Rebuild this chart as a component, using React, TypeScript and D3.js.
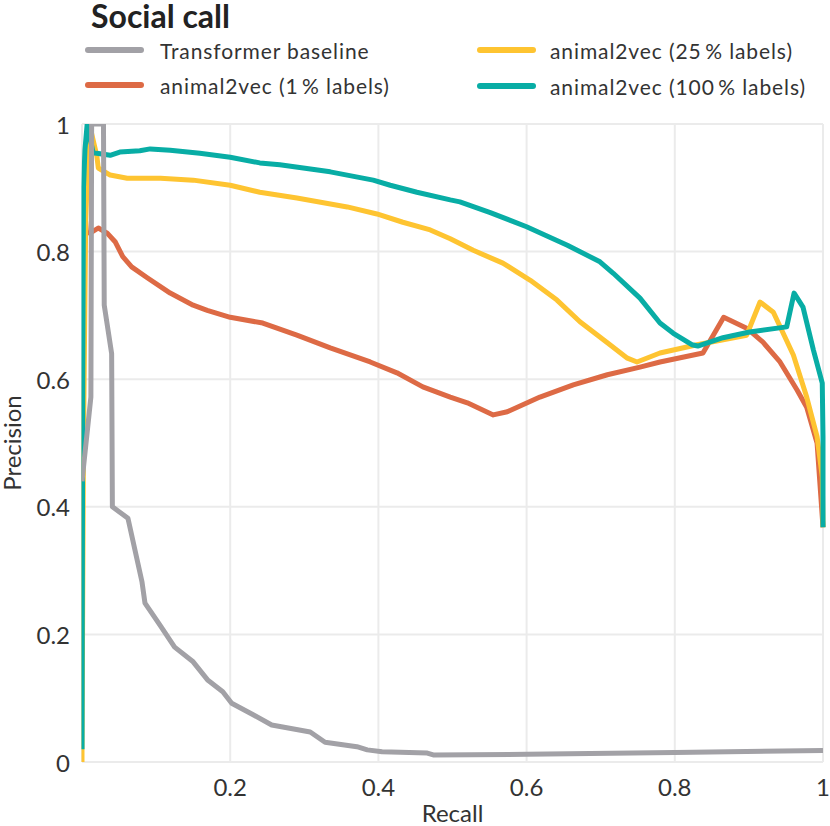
// App.tsx
import React from 'react';
import * as d3 from 'd3';

type Pt = [number, number];

// [recall, precision] pairs
const baseline: Pt[] = [
    [0, 0.44], [0.012, 0.572], [0.013, 1.0], [0.029, 1.0], [0.03, 0.716], [0.04, 0.64], [0.041, 0.40],
    [0.062, 0.382], [0.081, 0.282], [0.085, 0.249], [0.105, 0.215], [0.125, 0.18], [0.15, 0.157],
    [0.17, 0.128], [0.19, 0.11], [0.202, 0.092], [0.231, 0.074], [0.256, 0.058], [0.308, 0.047],
    [0.328, 0.031], [0.371, 0.024], [0.385, 0.019], [0.405, 0.016], [0.466, 0.014], [0.474, 0.011],
    [0.6, 0.012], [0.8, 0.015], [1.0, 0.018],
];

const labels1: Pt[] = [
    [0.004, 0.86], [0.006, 0.83], [0.011, 0.829], [0.022, 0.837], [0.034, 0.829], [0.045, 0.815],
    [0.055, 0.792], [0.067, 0.776], [0.088, 0.759], [0.119, 0.735], [0.15, 0.716], [0.169, 0.708],
    [0.2, 0.697], [0.244, 0.688], [0.29, 0.669], [0.335, 0.649], [0.389, 0.627], [0.425, 0.61],
    [0.46, 0.588], [0.497, 0.572], [0.52, 0.563], [0.555, 0.544], [0.574, 0.549], [0.618, 0.572],
    [0.663, 0.591], [0.709, 0.607], [0.753, 0.619], [0.78, 0.627], [0.838, 0.641], [0.866, 0.697],
    [0.897, 0.68], [0.919, 0.658], [0.942, 0.627], [0.965, 0.583], [0.978, 0.556], [0.992, 0.5],
    [1.0, 0.368],
];

const labels25: Pt[] = [
    [0, 0], [0, 0.02], [0.002, 0.5], [0.005, 0.85], [0.01, 1.0], [0.02, 0.95], [0.022, 0.931],
    [0.038, 0.92], [0.061, 0.915], [0.106, 0.915], [0.15, 0.912], [0.2, 0.904], [0.24, 0.893],
    [0.29, 0.884], [0.358, 0.87], [0.398, 0.859], [0.433, 0.846], [0.47, 0.834], [0.497, 0.82],
    [0.528, 0.802], [0.568, 0.782], [0.605, 0.755], [0.641, 0.724], [0.672, 0.69], [0.709, 0.657],
    [0.736, 0.633], [0.749, 0.627], [0.78, 0.641], [0.83, 0.654], [0.897, 0.669], [0.915, 0.721],
    [0.933, 0.705], [0.96, 0.638], [0.978, 0.572], [0.992, 0.51], [0.999, 0.447], [1.0, 0.368],
];

const labels100: Pt[] = [
    [0, 0.02], [0.001, 0.6], [0.002, 0.9], [0.004, 0.96], [0.007, 1.0], [0.015, 0.955], [0.02, 0.954],
    [0.038, 0.951], [0.051, 0.956], [0.078, 0.958], [0.092, 0.961], [0.119, 0.959], [0.159, 0.954],
    [0.2, 0.948], [0.24, 0.939], [0.267, 0.936], [0.335, 0.925], [0.393, 0.912], [0.416, 0.904],
    [0.452, 0.893], [0.497, 0.881], [0.51, 0.878], [0.551, 0.861], [0.6, 0.839], [0.655, 0.81],
    [0.699, 0.784], [0.717, 0.766], [0.753, 0.727], [0.78, 0.688], [0.798, 0.672], [0.823, 0.654],
    [0.831, 0.652], [0.865, 0.665], [0.901, 0.674], [0.951, 0.682], [0.961, 0.735], [0.973, 0.713],
    [0.987, 0.646], [0.999, 0.594], [1.0, 0.51], [1.0, 0.368],
];

const xTicks = [0.2, 0.4, 0.6, 0.8, 1];
const yTicks = [0, 0.2, 0.4, 0.6, 0.8, 1];

// legend order (drawing order differs: baseline sits on top)
const series = [
    { name: 'Transformer baseline', color: '#a2a1a6', data: baseline },
    { name: 'animal2vec (1\u2009% labels)', color: '#dd6a45', data: labels1 },
    { name: 'animal2vec (25\u2009% labels)', color: '#fec431', data: labels25 },
    { name: 'animal2vec (100\u2009% labels)', color: '#08ada5', data: labels100 },
];
const drawOrder = [1, 2, 3, 0];

const W = 830;
const H = 826;
const left = 82, right = 823, top = 124, bottom = 762;
const font = 'Lato, "Open Sans", sans-serif';
const textColor = '#333333';

const App: React.FC = () => {
    const x = d3.scaleLinear().domain([0, 1]).range([left, right]);
    const y = d3.scaleLinear().domain([0, 1]).range([bottom, top]);

    const line = d3.line<Pt>()
        .x(d => x(d[0]))
        .y(d => y(d[1]));

    const legendPos = [
        { lx: 88, tx: 160, ly: 50 },
        { lx: 88, tx: 160, ly: 85 },
        { lx: 480, tx: 550, ly: 50 },
        { lx: 480, tx: 550, ly: 86 },
    ];

    return (
        <div style={{ position: 'absolute', left: 0, top: 0 }}>
            <svg width={W} height={H} style={{ display: 'block', background: '#fff' }}>
                <defs>
                    <clipPath id="plot-clip">
                        <rect x={left - 0.5} y={top} width={W - left} height={bottom - top} />
                    </clipPath>
                </defs>

                {/* grid */}
                <g stroke="#ebebeb" strokeWidth={2}>
                    {yTicks.map(t => (
                        <line key={'gy' + t} x1={left} x2={right} y1={y(t)} y2={y(t)} />
                    ))}
                    {[0, ...xTicks].map(t => (
                        <line key={'gx' + t} x1={x(t)} x2={x(t)} y1={top} y2={bottom} />
                    ))}
                </g>

                {/* curves */}
                <g clipPath="url(#plot-clip)" fill="none" strokeWidth={5} strokeLinejoin="round" strokeLinecap="butt">
                    {drawOrder.map(i => (
                        <path key={series[i].name} d={line(series[i].data) || ''} stroke={series[i].color} />
                    ))}
                </g>

                {/* tick labels */}
                <g fontFamily={font} fontSize={24} fill={textColor}>
                    {yTicks.map(t => (
                        <text key={'ty' + t} x={70} y={y(t)} textAnchor="end" dominantBaseline="central">
                            {d3.format('~g')(t)}
                        </text>
                    ))}
                    {xTicks.map(t => (
                        <text key={'tx' + t} x={x(t)} y={786} textAnchor="middle" dominantBaseline="central">
                            {d3.format('~g')(t)}
                        </text>
                    ))}
                    <text x={(left + right) / 2} y={822} textAnchor="middle">Recall</text>
                    <text transform={`translate(21, ${(top + bottom) / 2}) rotate(-90)`} textAnchor="middle">
                        Precision
                    </text>
                </g>

                {/* title */}
                <text x={91} y={28} fontFamily={font} fontWeight="bold" fontSize={32} fill="#222">
                    Social call
                </text>

                {/* legend */}
                <g fontFamily={font} fontSize={21} fill={textColor} letterSpacing={0.9}>
                    {series.map((s, i) => {
                        const p = legendPos[i];
                        return (
                            <g key={'lg' + i}>
                                <line x1={p.lx} x2={p.lx + 53} y1={p.ly} y2={p.ly}
                                    stroke={s.color} strokeWidth={6} strokeLinecap="round" />
                                <text x={p.tx} y={p.ly} dominantBaseline="central">{s.name}</text>
                            </g>
                        );
                    })}
                </g>
            </svg>
        </div>
    );
};

export default App;
